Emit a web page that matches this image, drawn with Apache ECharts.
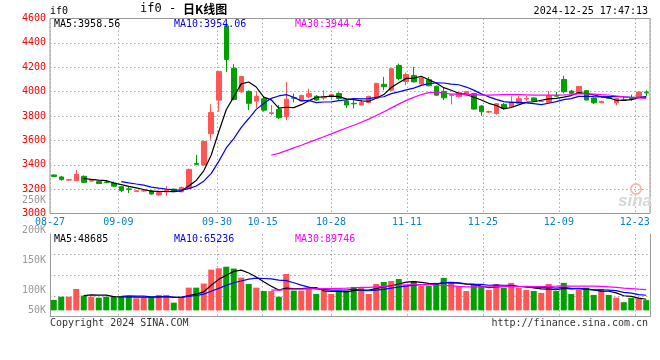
<!DOCTYPE html>
<html><head><meta charset="utf-8">
<script src="https://cdn.jsdelivr.net/npm/echarts@6/dist/echarts.min.js"></script>
<style>html,body{margin:0;padding:0;background:#fff}#c{width:660px;height:360px}</style>
</head><body><div id="c"></div>
<script>
// ---- data ----
const dates = ['08-27','08-28','08-29','08-30',
'09-02','09-03','09-04','09-05','09-06','09-09','09-10','09-11','09-12','09-13','09-18','09-19','09-20','09-23','09-24','09-25','09-26','09-27','09-30',
'10-08','10-09','10-10','10-11','10-14','10-15','10-16','10-17','10-18','10-21','10-22','10-23','10-24','10-25','10-28','10-29','10-30','10-31',
'11-01','11-04','11-05','11-06','11-07','11-08','11-11','11-12','11-13','11-14','11-15','11-18','11-19','11-20','11-21','11-22','11-25','11-26','11-27','11-28','11-29',
'12-02','12-03','12-04','12-05','12-06','12-09','12-10','12-11','12-12','12-13','12-16','12-17','12-18','12-19','12-20','12-23','12-24','12-25'];
const opens  = [3316,3300,3274,3270,3305,3266,3262,3258,3250,3220,3202,3182,3184,3186,3152,3178,3200,3178,3208,3410,3398,3655,3930,4540,4192,3998,4002,3922,3942,3822,3855,3794,3950,3925,3958,3962,3948,3958,3984,3924,3904,3890,3911,3945,4060,4012,4215,4082,4133,4062,4098,4044,4002,3968,3958,3971,3984,3882,3832,3821,3896,3876,3903,3940,3948,3919,3911,3967,4100,4005,3985,4008,3947,3908,3950,3908,3932,3947,3958,3997];
const closes = [3304,3278,3277,3322,3256,3270,3246,3254,3224,3188,3198,3186,3188,3160,3172,3196,3180,3214,3362,3404,3592,3828,4166,4264,3936,4124,3904,3962,3848,3826,3786,3938,3946,3969,3983,3931,3960,3975,3944,3890,3900,3910,3961,4068,4040,4188,4108,4140,4080,4114,4048,3971,3949,3972,3992,4000,3857,3835,3836,3901,3862,3915,3942,3944,3922,3922,3969,3963,3999,3986,4043,3931,3908,3920,3946,3942,3929,3935,3997,3990];
const lows   = [3300,3270,3268,3266,3252,3262,3242,3248,3218,3175,3168,3176,3178,3155,3145,3145,3175,3175,3204,3400,3390,3605,3834,4160,3928,3990,3848,3866,3836,3806,3774,3766,3912,3922,3945,3922,3930,3930,3932,3866,3862,3886,3905,3940,4011,4008,4093,4052,4075,4058,4044,3965,3930,3895,3952,3965,3852,3801,3825,3812,3852,3874,3900,3925,3918,3914,3909,3958,3985,3980,3982,3928,3898,3905,3940,3889,3926,3925,3955,3965];
const highs  = [3320,3308,3284,3356,3312,3276,3268,3266,3262,3224,3219,3192,3196,3190,3180,3225,3204,3222,3368,3480,3596,3897,4170,4560,4225,4130,4010,4003,3956,3889,3889,4080,3984,3972,4025,3972,4011,3978,3995,3943,3930,3930,3965,4070,4121,4192,4230,4156,4203,4120,4120,4050,4030,3975,3996,4004,3990,3890,3845,3906,3906,3962,3965,3965,3952,3930,4003,3998,4130,4014,4046,4014,3950,3925,3965,3944,3953,3976,4000,4011];
const volumes = [46000,60000,60000,94000,65000,60000,56000,60000,60000,60000,60000,53000,56000,60000,68000,68000,34000,56000,100000,100000,118000,179000,185000,192000,184000,144000,116000,100000,85000,85000,60000,160000,87000,87000,97000,72000,87000,72000,87000,87000,103000,99000,72000,116000,125000,129000,138000,112000,129000,107000,107000,121000,143000,125000,103000,85000,116000,107000,90000,116000,99000,121000,99000,90000,85000,77000,116000,85000,121000,72000,90000,100000,68000,94000,68000,56000,36000,55000,53000,45000];
const labelDates = ['08-27','09-09','09-30','10-15','10-28','11-11','11-25','12-09','12-23'];
const priceLegend = ['MA5:3958.56','MA10:3954.06','MA30:3944.4'];
const volLegend = ['MA5:48685','MA10:65236','MA30:89746'];
const volTickLabels = ['250K','200K','150K','100K','50K'];
const maPeriods = [5,10,30];

// ---- styles ----
const MONO = '"DejaVu Sans Mono","Liberation Mono",monospace';
const UP = '#ff5555', DOWN = '#00a000';
const maColors = ['#000000','#0000ff','#ff00ff'];
const GRIDC = '#aaaaaa', BORDER = '#999999';

function ma(arr, n){
  return arr.map((_, i) => {
    if (i < n-1) return null;
    let s = 0; for (let k = i-n+1; k <= i; k++) s += arr[k];
    return +(s/n).toFixed(2);
  });
}
// the date-label / grid-line scale of the original uses one slot fewer than the bars
const labelCats = dates.slice(0, dates.length - 1);
const labelSet = new Set(labelDates.map(d => labelCats.indexOf(d)));
const showIdx = (idx) => labelSet.has(idx);

const kData = dates.map((d,i) => [opens[i], closes[i], lows[i], highs[i]]);
const volData = volumes.map((v,i) => ({value: v, itemStyle: {color: closes[i] >= opens[i] ? UP : DOWN}}));

const series = [{
  type: 'candlestick', xAxisIndex: 0, yAxisIndex: 0, data: kData, barWidth: 5,
  itemStyle: {color: UP, color0: DOWN, borderColor: UP, borderColor0: DOWN, borderWidth: 1}
}];
maPeriods.forEach((n, j) => series.push({
  type: 'line', xAxisIndex: 0, yAxisIndex: 0, data: ma(closes, n), symbol: 'none',
  lineStyle: {color: maColors[j], width: 1.2}, z: 5
}));
series.push({type: 'bar', xAxisIndex: 1, yAxisIndex: 1, data: volData, barWidth: 6});
maPeriods.forEach((n, j) => series.push({
  type: 'line', xAxisIndex: 1, yAxisIndex: 1, data: ma(volumes, n), symbol: 'none',
  lineStyle: {color: maColors[j], width: 1.2}, z: 5
}));

const txt = (text, x, y, fill, align, extra) => Object.assign({
  type: 'text', x: x, y: y, silent: true, z: 100,
  style: Object.assign({text: text, fill: fill, fontFamily: MONO, fontSize: 10,
    align: align || 'left', verticalAlign: 'middle', textAlign: align || 'left', textVerticalAlign: 'middle'}, extra || {})
});
const legendX = [54, 174, 295];
const graphics = [
  txt('if0', 50, 11.5, '#000'),
  txt('if0 -', 140, 9, '#000', 'left', {fontSize: 12}),
  txt('日K线图', 183, 9, '#000', 'left', {fontSize: 12, fontWeight: 'bold', fontFamily: '"Noto Sans CJK SC",sans-serif'}),
  txt('2024-12-25 17:47:13', 648, 11.5, '#000', 'right'),
  txt('Copyright 2024 SINA.COM', 50, 323.5, '#333'),
  txt('http://finance.sina.com.cn', 648, 323.5, '#333', 'right'),
  txt('sina', 618, 201, '#d6d6d6', 'left', {fontSize: 17, fontWeight: 'bold', fontStyle: 'italic', fontFamily: 'sans-serif'}),
  {type: 'circle', shape: {cx: 636, cy: 189, r: 5}, silent: true, z: 1, style: {fill: 'none', stroke: '#f7b8b8', lineWidth: 2}}
];
legendX.forEach((x, j) => {
  graphics.push(txt(priceLegend[j], x, 24, maColors[j]));
  graphics.push(txt(volLegend[j], x, 239, maColors[j]));
});
volTickLabels.forEach((t, i) => graphics.push(txt(t, 46, Math.min(200 + 30*i, 310), '#999', 'right')));

const dotted = {show: true, lineStyle: {color: GRIDC, type: [1.5, 2.5], width: 1}};
const hiddenCat = {axisLine: {show: false}, axisTick: {show: false}, axisLabel: {show: false}, splitLine: {show: false}};
const option = {
  animation: false,
  backgroundColor: '#fff',
  grid: [
    {left: 50, top: 18.5, width: 600, height: 195, show: true, borderColor: BORDER, borderWidth: 1},
    {left: 50, top: 234, width: 600, height: 82.5, show: false}
  ],
  xAxis: [
    Object.assign({type: 'category', gridIndex: 0, data: dates, boundaryGap: true}, hiddenCat),
    Object.assign({type: 'category', gridIndex: 1, data: dates, boundaryGap: true}, hiddenCat),
    {type: 'category', gridIndex: 0, data: labelCats, boundaryGap: true, position: 'bottom',
     axisLine: {show: false}, axisTick: {show: false},
     axisLabel: {interval: showIdx, color: '#0b80d0', fontFamily: MONO, fontSize: 10, margin: 4, padding: [0, 7.6, 0, 0]},
     splitLine: Object.assign({interval: showIdx}, dotted)},
    {type: 'category', gridIndex: 1, data: labelCats, boundaryGap: true, position: 'top',
     axisLine: {show: true, lineStyle: {color: BORDER, width: 1}}, axisTick: {show: false}, axisLabel: {show: false},
     splitLine: Object.assign({interval: showIdx}, dotted)}
  ],
  yAxis: [
    {type: 'value', gridIndex: 0, min: 3000, max: 4600, interval: 200,
     axisLine: {show: false}, axisTick: {show: false},
     axisLabel: {color: '#ff0000', fontFamily: MONO, fontSize: 10, margin: 4, padding: [0, 0, 4, 0], formatter: (v) => String(v)},
     splitLine: Object.assign({showMinLine: false, showMaxLine: false}, dotted)},
    {type: 'value', gridIndex: 1, min: -27000, max: 336000,
     axisLine: {show: true, lineStyle: {color: BORDER, width: 1}}, axisTick: {show: false}, axisLabel: {show: false}, splitLine: {show: false}},
    {type: 'value', gridIndex: 1, min: 0, max: 4, interval: 1, position: 'right',
     axisLine: {show: true, lineStyle: {color: BORDER, width: 1}}, axisTick: {show: false}, axisLabel: {show: false},
     splitLine: Object.assign({showMinLine: false, showMaxLine: false}, dotted)}
  ],
  series: series,
  graphic: graphics
};
const chart = echarts.init(document.getElementById('c'), null, {renderer: 'canvas'});
chart.setOption(option);
</script></body></html>
